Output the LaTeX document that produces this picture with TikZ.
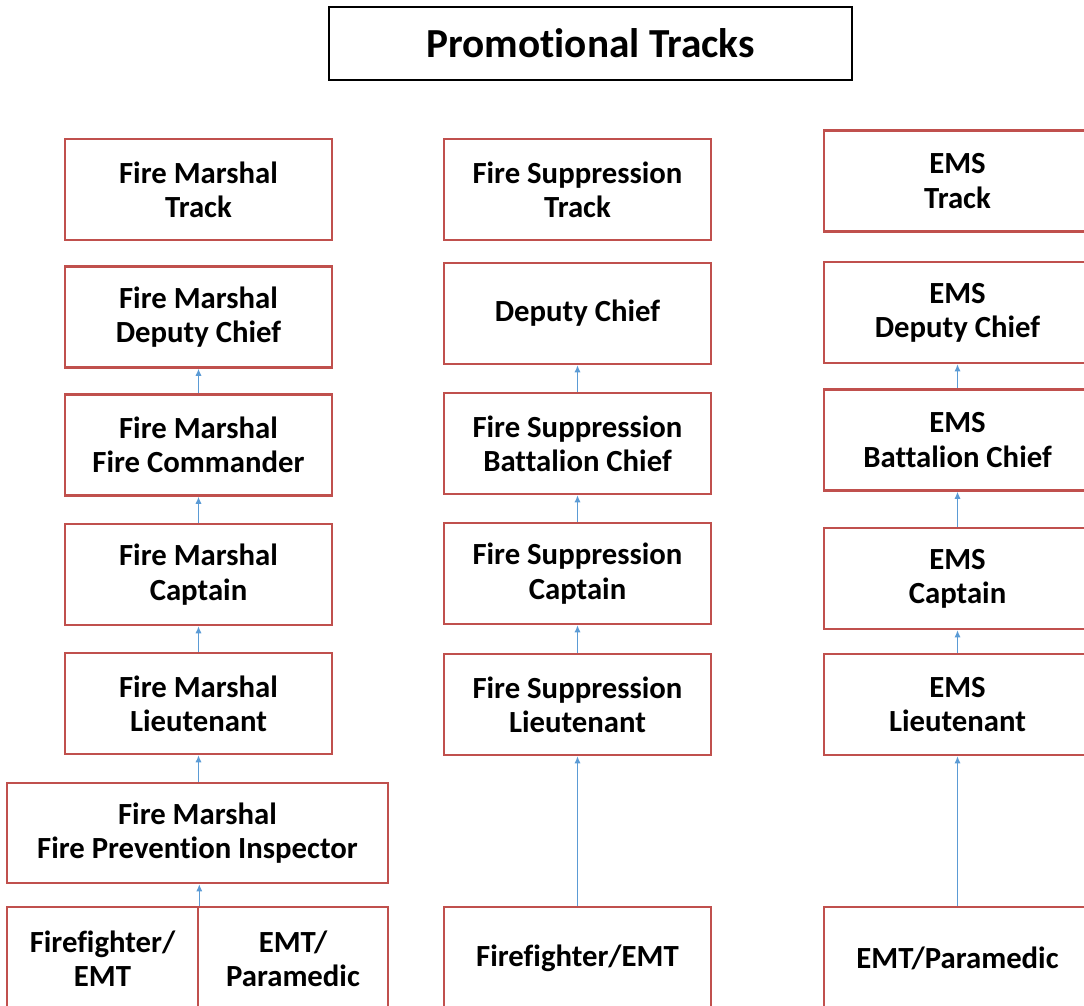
\documentclass[tikz,border=0pt]{standalone}
\usepackage{fontspec}
\setmainfont[RawFeature={-liga;-clig;-calt;-dlig}]{Carlito}
\usetikzlibrary{arrows.meta}
\definecolor{boxred}{RGB}{192,80,77}
\definecolor{upblue}{RGB}{91,155,213}

\begin{document}
\begin{tikzpicture}
[x=0.02cm, y=-0.02cm,
 track/.style={draw=boxred, line width=1.5pt, minimum width=5.34cm, minimum height=2.02cm, align=center, font=\bfseries\fontsize{17.5}{19.5}\selectfont},
 up/.style={draw=upblue, line width=0.6pt, -{Latex[length=4pt,width=3.5pt]}}]
\useasboundingbox (0,0) rectangle (1084,1006);

\node[draw, line width=1.2pt, minimum width=10.46cm, minimum height=1.46cm, font=\bfseries\fontsize{23.5}{26}\selectfont] (title) at (590.5,43.5) {Promotional Tracks};

% fire marshal
\node[track] (fmT) at (198.5,189.5) {Fire Marshal\\Track};
\node[track] (fmD) at (198.5,317) {Fire Marshal\\Deputy Chief};
\node[track] (fmC) at (198.5,445) {Fire Marshal\\Fire Commander};
\node[track] (fmCap) at (198.5,574.5) {Fire Marshal\\Captain};
\node[track] (fmL) at (198.5,703.5) {Fire Marshal\\Lieutenant};
\node[track, minimum width=7.62cm, minimum height=2cm] (fmI) at (197.5,833) {Fire Marshal\\Fire Prevention Inspector};
\node[track, minimum width=3.82cm, minimum height=2.06cm] (ffL) at (102.5,958.5) {Firefighter/\\EMT};
\node[track, minimum width=3.8cm, minimum height=2.06cm] (emtL) at (293,958.5) {EMT/\\Paramedic};

% fire suppression
\node[track] (fsT) at (577.5,189.5) {Fire Suppression\\Track};
\node[track] (fsD) at (577.5,313.5) {Deputy Chief};
\node[track] (fsB) at (577.5,443.5) {Fire Suppression\\Battalion Chief};
\node[track] (fsC) at (577.5,573.5) {Fire Suppression\\Captain};
\node[track] (fsL) at (577.5,704.5) {Fire Suppression\\Lieutenant};
\node[track, minimum height=2.06cm] (fsFF) at (577.5,958.5) {Firefighter/EMT};

% ems
\node[track] (emsT) at (957.5,181) {EMS\\Track};
\node[track] (emsD) at (957.5,312.5) {EMS\\Deputy Chief};
\node[track] (emsB) at (957.5,440) {EMS\\Battalion Chief};
\node[track] (emsC) at (957.5,578.5) {EMS\\Captain};
\node[track] (emsL) at (957.5,704.5) {EMS\\Lieutenant};
\node[track, minimum height=2.06cm] (emsP) at (957.5,958.5) {EMT/Paramedic};

\draw[up] (fmC) -- (fmD);
\draw[up] (fmCap) -- (fmC);
\draw[up] (fmL) -- (fmCap);
\draw[up] (fmI.north -| fmL) -- (fmL);
\draw[up] (ffL.north east) -- (ffL.north east |- fmI.south);

\draw[up] (fsB) -- (fsD);
\draw[up] (fsC) -- (fsB);
\draw[up] (fsL) -- (fsC);
\draw[up] (fsFF) -- (fsL);

\draw[up] (emsB) -- (emsD);
\draw[up] (emsC) -- (emsB);
\draw[up] (emsL) -- (emsC);
\draw[up] (emsP) -- (emsL);
\end{tikzpicture}
\end{document}
